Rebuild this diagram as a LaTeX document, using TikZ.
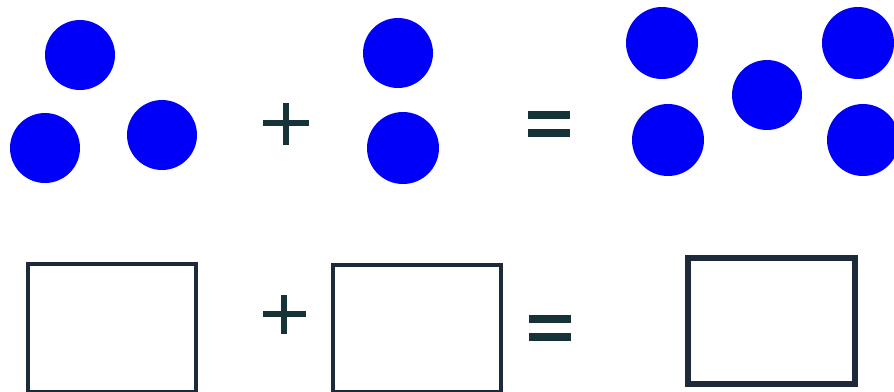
\documentclass[tikz,border=0pt]{standalone}
\usepackage{xcolor}
\definecolor{ballblue}{RGB}{0,0,250}
\definecolor{signteal}{RGB}{22,52,56}
\definecolor{boxslate}{RGB}{28,42,58}
\usepackage{tikz}
\usetikzlibrary{calc}

\tikzset{
  ball/.style={fill=ballblue},
  signbar/.style={signteal, line width=4.6pt},
  eqbar/.style={signteal, line width=5.6pt},
  framebox/.style={draw=boxslate, line width=2.6pt},
  framebold/.style={draw=boxslate, line width=4pt}
}

\begin{document}
\begin{tikzpicture}[x=0.025cm, y=-0.025cm]
\useasboundingbox (0,0) rectangle (894,391);

% --- Top row: three balls ---
\fill[ball] (80,55) circle (35);
\fill[ball] (45,148) circle (35);
\fill[ball] (162,135) circle (35);

% Plus
\draw[signbar] (263,123) -- (309,123);
\draw[signbar] (286,103) -- (286,145);

% Two balls
\fill[ball] (398,53) circle (35);
\fill[ball] (403,148) circle (36);

% Equals
\draw[eqbar] (528,115) -- (570,115);
\draw[eqbar] (528,133) -- (570,133);

% Five balls
\fill[ball] (662,43) circle (36);
\fill[ball] (668,140) circle (36);
\fill[ball] (767,95) circle (35);
\fill[ball] (858,43) circle (36);
\fill[ball] (863,140) circle (36);

% --- Bottom row: boxes ---
\draw[framebox] (28,264) rectangle (196,392);

% Plus
\draw[signbar] (263,314) -- (306,314);
\draw[signbar] (284,295) -- (284,334);

\draw[framebox] (333,265) rectangle (501,392);

% Equals
\draw[eqbar] (529,319) -- (571,319);
\draw[eqbar] (529,337) -- (571,337);

\draw[framebold] (688,258) rectangle (855,384);

\end{tikzpicture}
\end{document}
